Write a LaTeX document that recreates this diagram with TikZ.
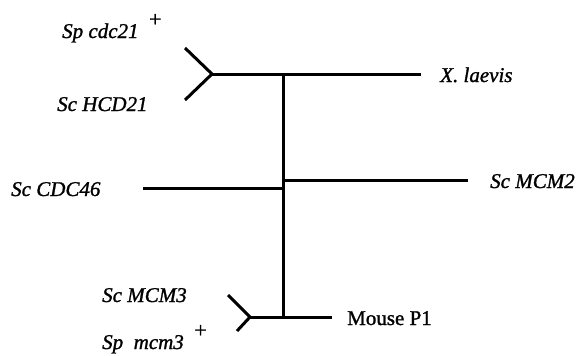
\documentclass[tikz,border=0pt]{standalone}
\usepackage{fontspec}
\setmainfont[FakeBold=1.2]{Liberation Serif}
\begin{document}
\begin{tikzpicture}[x=1pt,y=-1pt,
  branch/.style={line width=3pt,line cap=butt,line join=miter},
  lbl/.style={anchor=base west,inner sep=0pt,font=\fontsize{21}{24}\selectfont\itshape},
  plbl/.style={anchor=base west,inner sep=0pt,font=\fontsize{21}{24}\selectfont}]
\useasboundingbox (0,0) rectangle (584,356);
\newcommand{\plusmark}{\hspace{0.5em}\raisebox{0.55em}{\upshape\fontsize{22}{22}\selectfont +}}
% leaf labels
\node[lbl] (cdc21)  at (62,38)  {Sp cdc21\plusmark};
\node[lbl] (hcd21)  at (57,111) {Sc HCD21};
\node[lbl] (xl)     at (440,82) {X.\ laevis};
\node[lbl] (mcm2)   at (490,188) {Sc MCM2};
\node[lbl] (cdc46)  at (11,196) {Sc CDC46};
\node[lbl] (mcm3)   at (102,302) {Sc MCM3};
\node[lbl] (spmcm3) at (102,349) {Sp\ \ mcm3\plusmark};
\node[plbl] (mouse) at (347,325) {Mouse P1};
% tree points
\coordinate (topfork) at (212,74);
\coordinate (topa) at (185,48);
\coordinate (topb) at (185,100);
\coordinate (xend) at (421,74);
\coordinate (vtop) at (283,74);
\coordinate (vbot) at (283,317);
\coordinate (j2) at (283,180);
\coordinate (m2end) at (468,180);
\coordinate (j46) at (283,188);
\coordinate (c46end) at (143,188);
\coordinate (botfork) at (250,317);
\coordinate (bota) at (228,295);
\coordinate (botb) at (237,331);
\coordinate (mend) at (332,317);
% branches
\draw[branch] (topa) -- (topfork) -- (topb);
\draw[branch] (topfork) -- (xend);
\draw[branch] (vtop) -- (vbot);
\draw[branch] (j2) -- (m2end);
\draw[branch] (c46end) -- (j46);
\draw[branch] (bota) -- (botfork) -- (botb);
\draw[branch] (botfork) -- (mend);
\end{tikzpicture}
\end{document}
